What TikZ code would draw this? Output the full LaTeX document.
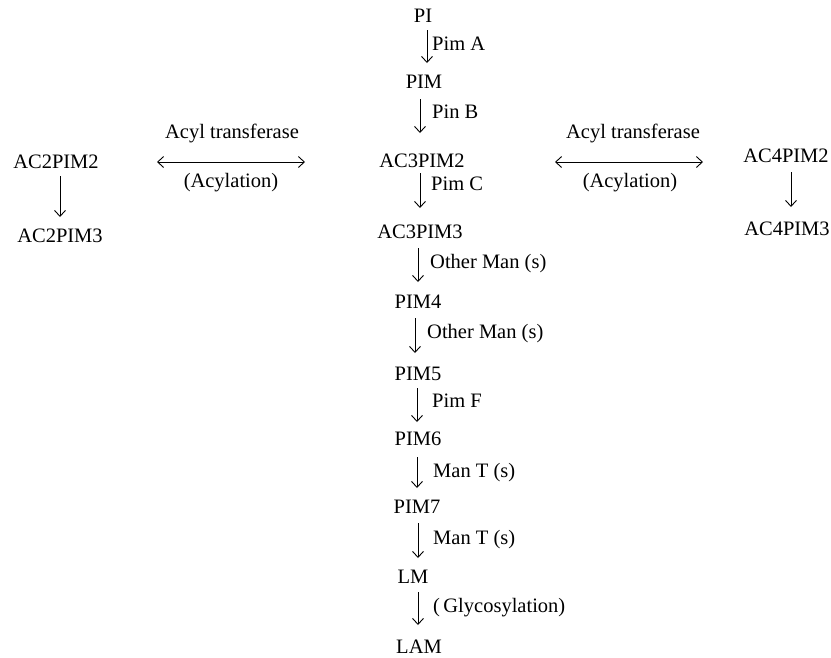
\documentclass[tikz,border=0pt]{standalone}
\usepackage{fontspec}
\setmainfont{Liberation Serif}
\usetikzlibrary{arrows.meta}
\begin{document}
\begin{tikzpicture}[x=1pt,y=-1pt,
  txt/.style={inner sep=0pt,anchor=base,font=\fontsize{20.5}{24}\selectfont},
  lbl/.style={inner sep=0pt,anchor=base west,font=\fontsize{20.5}{24}\selectfont},
  arr/.style={line width=0.9pt,-{Straight Barb[length=6pt,width=11pt,line width=0.9pt]}},
  darr/.style={line width=0.9pt,{Straight Barb[length=6pt,width=11pt,line width=0.9pt]}-{Straight Barb[length=6pt,width=11pt,line width=0.9pt]}}]
\useasboundingbox (0,0) rectangle (831,657);
% central column
\node[txt] (PI) at (423,22) {PI};
\node[txt] (PIM) at (424,88) {PIM};
\node[txt] (AC3PIM2) at (422,167) {AC3PIM2};
\node[txt] (AC3PIM3) at (420,238) {AC3PIM3};
\node[txt] (PIM4) at (418,308) {PIM4};
\node[txt] (PIM5) at (418,380) {PIM5};
\node[txt] (PIM6) at (418,445) {PIM6};
\node[txt] (PIM7) at (417,513) {PIM7};
\node[txt] (LM) at (413,583) {LM};
\node[txt] (LAM) at (419,653) {LAM};
% side columns
\node[txt] (AC2PIM2) at (56,168) {AC2PIM2};
\node[txt] (AC2PIM3) at (60,242) {AC2PIM3};
\node[txt] (AC4PIM2) at (786,162) {AC4PIM2};
\node[txt] (AC4PIM3) at (787,235) {AC4PIM3};
% arrow end points
\coordinate (a1s) at (427,30);  \coordinate (a1e) at (427,63);
\coordinate (a2s) at (420,99);  \coordinate (a2e) at (420,133);
\coordinate (a3s) at (420,173); \coordinate (a3e) at (420,208);
\coordinate (a4s) at (418,248); \coordinate (a4e) at (418,282);
\coordinate (a5s) at (415,318); \coordinate (a5e) at (415,353);
\coordinate (a6s) at (417,388); \coordinate (a6e) at (417,422);
\coordinate (a7s) at (417,457); \coordinate (a7e) at (417,488);
\coordinate (a8s) at (418,523); \coordinate (a8e) at (418,558);
\coordinate (a9s) at (418,592); \coordinate (a9e) at (418,625);
\coordinate (lds) at (60,176);  \coordinate (lde) at (60,217);
\coordinate (rds) at (791,172); \coordinate (rde) at (791,207);
\coordinate (lhl) at (157,162); \coordinate (lhr) at (305,162);
\coordinate (rhl) at (555,162); \coordinate (rhr) at (703,162);
\draw[arr] (a1s) -- (a1e);
\draw[arr] (a2s) -- (a2e);
\draw[arr] (a3s) -- (a3e);
\draw[arr] (a4s) -- (a4e);
\draw[arr] (a5s) -- (a5e);
\draw[arr] (a6s) -- (a6e);
\draw[arr] (a7s) -- (a7e);
\draw[arr] (a8s) -- (a8e);
\draw[arr] (a9s) -- (a9e);
\draw[arr] (lds) -- (lde);
\draw[arr] (rds) -- (rde);
\draw[darr] (lhl) -- (lhr);
\draw[darr] (rhl) -- (rhr);
% arrow labels
\node[lbl] (l1) at (432,50) {Pim A};
\node[lbl] (l2) at (432,118) {Pin B};
\node[lbl] (l3) at (431,190) {Pim C};
\node[lbl] (l4) at (430,268) {Other Man (s)};
\node[lbl] (l5) at (427,338) {Other Man (s)};
\node[lbl] (l6) at (432,407) {Pim F};
\node[lbl] (l7) at (433,477) {Man T (s)};
\node[lbl] (l8) at (433,544) {Man T (s)};
\node[lbl] (l9) at (433,612) {(\,Glycosylation)};
\node[txt] (t1) at (232,138) {Acyl transferase};
\node[txt] (t2) at (231,187) {(Acylation)};
\node[txt] (t3) at (633,138) {Acyl transferase};
\node[txt] (t4) at (630,187) {(Acylation)};
\end{tikzpicture}
\end{document}
